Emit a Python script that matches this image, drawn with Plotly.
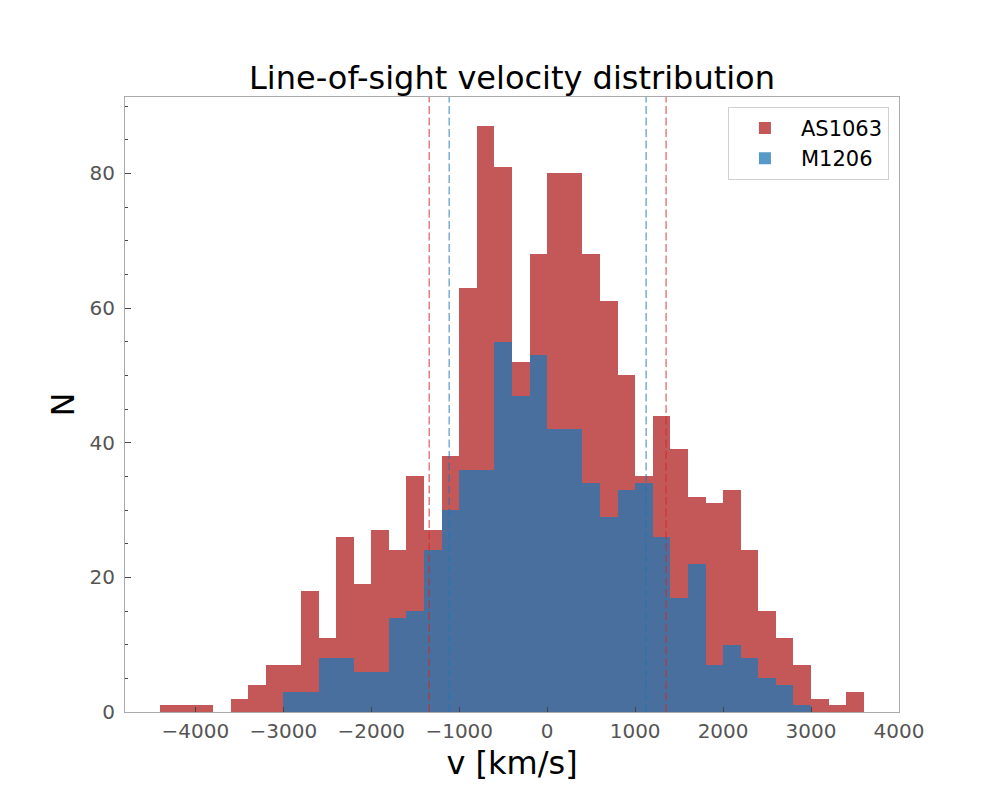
import plotly.graph_objects as go

# ---- data ----
bin_width = 200
red_bins = [-4300, -4100, -3900, -3700, -3500, -3300, -3100, -2900, -2700, -2500,
            -2300, -2100, -1900, -1700, -1500, -1300, -1100, -900, -700, -500,
            -300, -100, 100, 300, 500, 700, 900, 1100, 1300, 1500,
            1700, 1900, 2100, 2300, 2500, 2700, 2900, 3100, 3300, 3500]
red_counts = [1, 1, 1, 0, 2, 4, 7, 7, 18, 11,
              26, 19, 27, 24, 35, 27, 38, 63, 87, 81,
              52, 68, 80, 80, 68, 61, 50, 35, 44, 39,
              32, 31, 33, 24, 15, 11, 7, 2, 1, 3]

blue_bins = [-2900, -2700, -2500, -2300, -2100, -1900, -1700, -1500, -1300, -1100,
             -900, -700, -500, -300, -100, 100, 300, 500, 700, 900,
             1100, 1300, 1500, 1700, 1900, 2100, 2300, 2500, 2700, 2900]
blue_counts = [3, 3, 8, 8, 6, 6, 14, 15, 24, 30,
               36, 36, 55, 47, 53, 42, 42, 34, 29, 33,
               34, 26, 17, 22, 7, 10, 8, 5, 4, 1]

red_sigma_lines = [-1341, 1352]
blue_sigma_lines = [-1114, 1125]

x_ticks = [-4000, -3000, -2000, -1000, 0, 1000, 2000, 3000, 4000]
y_ticks = [0, 20, 40, 60, 80]

names = ["AS1063", "M1206"]

# ---- styles ----
RED = "#c45757"
BLUE = "rgba(31,119,180,0.75)"
RED_LINE = "rgba(214,39,40,0.6)"
BLUE_LINE = "rgba(31,119,180,0.6)"
FONT = "DejaVu Sans"
DASH = "8px,3.5px"

fig = go.Figure()
fig.add_trace(go.Bar(x=red_bins, y=red_counts, width=bin_width, name=names[0],
                     marker=dict(color=RED, line=dict(width=0))))
fig.add_trace(go.Bar(x=blue_bins, y=blue_counts, width=bin_width, name=names[1],
                     marker=dict(color=BLUE, line=dict(width=0))))

for xv in red_sigma_lines:
    fig.add_shape(type="line", x0=xv, x1=xv, y0=0, y1=1, xref="x", yref="y domain",
                  layer="above", line=dict(color=RED_LINE, width=1.5, dash=DASH))
for xv in blue_sigma_lines:
    fig.add_shape(type="line", x0=xv, x1=xv, y0=0, y1=1, xref="x", yref="y domain",
                  layer="above", line=dict(color=BLUE_LINE, width=1.5, dash=DASH))

def fmt(v):
    return ("\u2212" + str(abs(v))) if v < 0 else str(v)

fig.update_layout(
    width=1000, height=800,
    margin=dict(l=117, r=109, t=89, b=96, autoexpand=False),
    paper_bgcolor="white", plot_bgcolor="white",
    barmode="overlay", bargap=0,
    font=dict(family=FONT, color="#555555"),
    title=dict(text="Line-of-sight velocity distribution", x=0.504, xanchor="center",
               y=0.9125, yanchor="middle",
               font=dict(family=FONT, size=32, color="black")),
    showlegend=True,
    legend=dict(x=0.987, xanchor="right", y=0.984, yanchor="top",
                bgcolor="white", bordercolor="#d0d0d0", borderwidth=1,
                font=dict(family=FONT, size=21, color="black"),
                itemwidth=62),
    xaxis=dict(range=[-4800, 4000], tickvals=x_ticks, ticktext=[fmt(v) for v in x_ticks],
               ticks="inside", ticklen=5, tickwidth=1, tickcolor="#444444",
               showline=True, linecolor="#aaaaaa", linewidth=1, mirror=True,
               showgrid=False, zeroline=False, ticklabelstandoff=1,
               tickfont=dict(family=FONT, size=20, color="#555555"),
               title=dict(text="v [km/s]", standoff=9,
                          font=dict(family=FONT, size=32, color="black"))),
    yaxis=dict(range=[0, 91.35], tickvals=y_ticks,
               ticks="inside", ticklen=6, tickwidth=1, tickcolor="#444444",
               minor=dict(dtick=5, tick0=0, ticks="inside", ticklen=3, tickcolor="#444444"),
               showline=True, linecolor="#aaaaaa", linewidth=1, mirror=True,
               showgrid=False, zeroline=False, ticklabelstandoff=5,
               tickfont=dict(family=FONT, size=20, color="#555555"),
               title=dict(text="N", standoff=5,
                          font=dict(family=FONT, size=32, color="black"))),
)

fig.write_html("out.html")
